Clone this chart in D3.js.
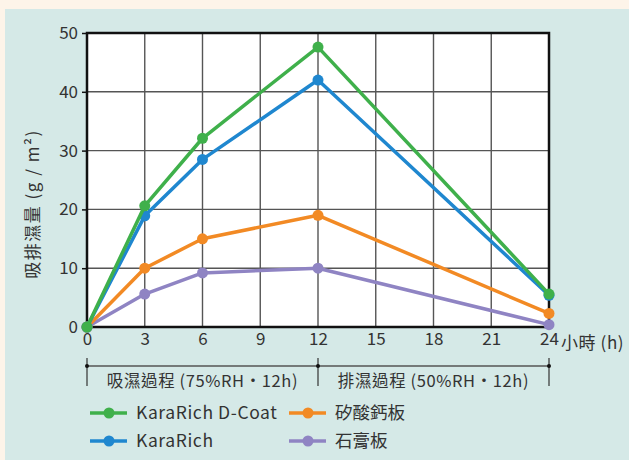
<!DOCTYPE html>
<html>
<head>
<meta charset="utf-8">
<script src="https://cdn.jsdelivr.net/npm/d3@7"></script>
<style>
  body { margin: 0; background: #fdf4e9; }
  svg { display: block; }
  text { font-family: "Noto Sans CJK TC", "Noto Sans", sans-serif; fill: #333; }
</style>
</head>
<body>
<svg id="chart" width="629" height="460"></svg>
<script>
// hours on the x axis
var hours = [0, 3, 6, 12, 24];
var xTicks = [0, 3, 6, 9, 12, 15, 18, 21, 24];
var yTicks = [0, 10, 20, 30, 40, 50];

// moisture (g/m2) per series
var dCoat = [0, 20.6, 32.1, 47.6, 5.6];
var karaRich = [0, 18.9, 28.5, 42, 5.4];
var calciumSilicate = [0, 10, 15, 19, 2.3];
var gypsum = [0, 5.6, 9.2, 10, 0.4];

var seriesNames = ["KaraRich D-Coat", "KaraRich", "矽酸鈣板", "石膏板"];
var phaseLabels = ["吸濕過程 (75%RH・12h)", "排濕過程 (50%RH・12h)"];

var colors = ["#3fb04b", "#1f87cf", "#f28a24", "#8f84c3"];

var series = [dCoat, karaRich, calciumSilicate, gypsum];

var svg = d3.select("#chart");

// teal panel
svg.append("rect")
	.attr("x", 5).attr("y", 9)
	.attr("width", 624).attr("height", 451)
	.attr("fill", "#d5e9e7");

var x = d3.scaleLinear().domain([0, 24]).range([87, 549]);
var y = d3.scaleLinear().domain([0, 50]).range([327, 33]);

// plot background
svg.append("rect")
	.attr("x", x(0)).attr("y", y(50))
	.attr("width", x(24) - x(0)).attr("height", y(0) - y(50))
	.attr("fill", "#fff");

// grid
var grid = svg.append("g");
grid.selectAll("line.v")
	.data(xTicks.slice(1, -1))
	.enter().append("line")
	.attr("x1", function(d){ return x(d); })
	.attr("x2", function(d){ return x(d); })
	.attr("y1", y(0)).attr("y2", y(50))
	.attr("stroke", "#555").attr("stroke-width", 1.4);
grid.selectAll("line.h")
	.data(yTicks.slice(1, -1))
	.enter().append("line")
	.attr("x1", x(0)).attr("x2", x(24))
	.attr("y1", function(d){ return y(d); })
	.attr("y2", function(d){ return y(d); })
	.attr("stroke", "#555").attr("stroke-width", 1.4);

// frame
svg.append("rect")
	.attr("x", x(0)).attr("y", y(50))
	.attr("width", x(24) - x(0)).attr("height", y(0) - y(50))
	.attr("fill", "none").attr("stroke", "#111").attr("stroke-width", 2.5);

// y axis
var yAxis = svg.append("g")
	.attr("transform", "translate(" + x(0) + ",0)")
	.call(d3.axisLeft(y).tickValues(yTicks).tickSize(5).tickPadding(4));
yAxis.select(".domain").remove();
yAxis.selectAll(".tick line").attr("stroke", "#111").attr("stroke-width", 1.5);
yAxis.selectAll("text").attr("font-size", 17).attr("fill", "#333");

// x axis
var xAxis = svg.append("g")
	.attr("transform", "translate(0," + y(0) + ")")
	.call(d3.axisBottom(x).tickValues(xTicks).tickSize(0).tickPadding(6));
xAxis.select(".domain").remove();
xAxis.selectAll("text").attr("font-size", 17).attr("fill", "#333");

svg.append("text")
	.attr("x", x(24) + 12).attr("y", y(0) + 22)
	.attr("font-size", 17)
	.attr("letter-spacing", 0.6)
	.text("小時 (h)");

svg.append("text")
	.attr("transform", "translate(39,204) rotate(-90)")
	.attr("text-anchor", "middle")
	.attr("font-size", 17)
	.attr("letter-spacing", 1.5)
	.text("吸排濕量 (g / m²)");

// phase bracket
var bracketY = 366;
var bracket = svg.append("g");
bracket.append("line")
	.attr("x1", x(0)).attr("x2", x(24))
	.attr("y1", bracketY).attr("y2", bracketY)
	.attr("stroke", "#555").attr("stroke-width", 1.5);
bracket.selectAll("line.tick")
	.data([0, 12, 24])
	.enter().append("line")
	.attr("x1", function(d){ return x(d); })
	.attr("x2", function(d){ return x(d); })
	.attr("y1", bracketY - 8).attr("y2", bracketY + 20)
	.attr("stroke", "#333").attr("stroke-width", 1.2);
bracket.selectAll("circle")
	.data([0, 12, 24])
	.enter().append("circle")
	.attr("cx", function(d){ return x(d); })
	.attr("cy", bracketY).attr("r", 2)
	.attr("fill", "#111");
bracket.selectAll("text")
	.data(phaseLabels)
	.enter().append("text")
	.attr("x", function(d, i){ return x(i * 12 + 6); })
	.attr("y", bracketY + 21)
	.attr("text-anchor", "middle")
	.attr("font-size", 16.5)
	.attr("letter-spacing", 0.6)
	.text(function(d){ return d; });

// series
var line = d3.line()
	.x(function(d, i){ return x(hours[i]); })
	.y(function(d){ return y(d); });

var drawOrder = [3, 2, 1, 0];
drawOrder.forEach(function(s){
	var g = svg.append("g");
	g.append("path")
		.datum(series[s])
		.attr("d", line)
		.attr("fill", "none")
		.attr("stroke", colors[s])
		.attr("stroke-width", 3.5)
		.attr("stroke-linejoin", "round");
	g.selectAll("circle")
		.data(series[s])
		.enter().append("circle")
		.attr("cx", function(d, i){ return x(hours[i]); })
		.attr("cy", function(d){ return y(d); })
		.attr("r", 5.5)
		.attr("fill", colors[s]);
});

// legend
var legendPos = [[90, 413], [90, 441], [289, 413], [289, 441]];
var legend = svg.append("g");
seriesNames.forEach(function(name, i){
	var p = legendPos[i];
	legend.append("line")
		.attr("x1", p[0]).attr("x2", p[0] + 37)
		.attr("y1", p[1]).attr("y2", p[1])
		.attr("stroke", colors[i]).attr("stroke-width", 3.5);
	legend.append("circle")
		.attr("cx", p[0] + 19).attr("cy", p[1]).attr("r", 5.5)
		.attr("fill", colors[i]);
	legend.append("text")
		.attr("x", p[0] + 46).attr("y", p[1] + 6)
		.attr("font-size", 17.5)
		.attr("letter-spacing", i < 2 ? 0.6 : 0)
		.text(name);
});
</script>
</body>
</html>
